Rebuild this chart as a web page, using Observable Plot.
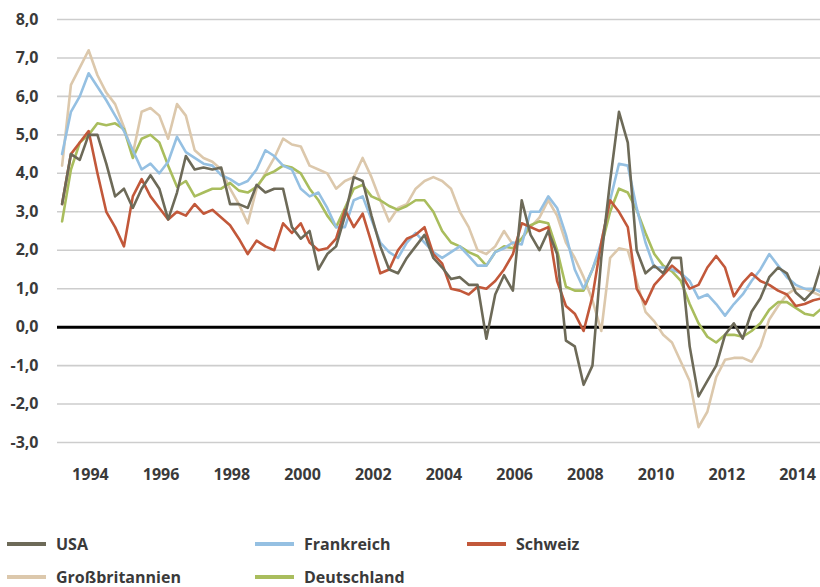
<!DOCTYPE html>
<html>
<head>
<meta charset="utf-8">
<script src="https://cdn.jsdelivr.net/npm/d3@7"></script>
<script src="https://cdn.jsdelivr.net/npm/@observablehq/plot@0.6"></script>
<style>
  html, body { margin: 0; padding: 0; background: #fff; }
  #wrap { position: relative; width: 820px; height: 587px; overflow: hidden; font-family: "Open Sans", sans-serif; }
  #wrap svg { display: block; }
  .lg { position: absolute; height: 22px; display: flex; align-items: center; font-size: 16px; font-weight: 700; color: #3a3a3a; white-space: nowrap; }
  .lg .sw { width: 39px; height: 4px; margin-right: 10px; }
</style>
</head>
<body>
<div id="wrap"></div>
<script>
// Series names and colours
const seriesNames = ["USA", "Frankreich", "Schweiz", "Großbritannien", "Deutschland"];
const seriesColors = ["#6d6a58", "#95c0e2", "#c2583a", "#dcc8ac", "#a9bd5d"];

// Time grid (quarterly samples, decimal years)
const times = d3.range(87).map(i => 1993.2 + i * 0.25);

// Values (%)
const usa = [3.2,4.5,4.35,5.0,5.0,4.25,3.4,3.6,3.1,3.6,3.95,3.6,2.8,3.5,4.45,4.1,4.15,4.1,4.15,3.2,
  3.2,3.1,3.7,3.5,3.6,3.6,2.6,2.3,2.5,1.5,1.9,2.1,2.9,3.9,3.8,2.9,2.1,1.5,1.4,1.8,
  2.1,2.4,1.8,1.55,1.25,1.3,1.1,1.1,-0.3,0.85,1.35,0.95,3.3,2.4,2.0,2.5,1.9,-0.35,-0.5,-1.5,
  -1.0,1.8,3.8,5.6,4.8,2.0,1.4,1.6,1.4,1.8,1.8,-0.5,-1.8,-1.4,-1.0,-0.2,0.1,-0.3,0.4,0.75,
  1.3,1.55,1.4,0.9,0.7,0.95,1.7];
const frankreich = [4.5,5.6,6.0,6.6,6.25,5.9,5.5,5.1,4.6,4.1,4.25,4.0,4.3,4.95,4.55,4.4,4.25,4.2,3.95,3.85,
  3.7,3.8,4.1,4.6,4.45,4.2,4.1,3.6,3.4,3.5,3.1,2.6,2.6,3.3,3.4,2.8,2.2,1.95,1.8,2.2,
  2.45,2.2,1.95,1.8,1.95,2.1,1.85,1.6,1.6,1.95,2.05,2.2,2.15,3.0,3.0,3.4,3.1,2.4,1.5,1.0,
  1.5,2.2,3.3,4.25,4.2,3.1,2.2,1.55,1.55,1.5,1.4,1.2,0.75,0.85,0.6,0.3,0.6,0.85,1.2,1.5,
  1.9,1.6,1.3,1.1,1.0,1.0,0.9];
const schweiz = [3.2,4.5,4.8,5.1,4.0,3.0,2.6,2.1,3.4,3.85,3.4,3.1,2.8,3.0,2.9,3.2,2.95,3.05,2.85,2.65,
  2.3,1.9,2.25,2.1,2.0,2.7,2.45,2.7,2.2,2.0,2.05,2.3,3.05,2.6,2.95,2.2,1.4,1.5,2.0,2.3,
  2.4,2.6,1.9,1.65,1.0,0.95,0.85,1.05,1.0,1.2,1.5,1.9,2.7,2.6,2.5,2.6,1.2,0.55,0.35,-0.1,
  0.8,2.2,3.3,3.0,2.6,1.0,0.6,1.1,1.35,1.6,1.4,1.0,1.1,1.55,1.85,1.55,0.8,1.15,1.4,1.2,
  1.1,0.95,0.85,0.55,0.6,0.7,0.75];
const grossbritannien = [4.2,6.3,6.75,7.2,6.55,6.1,5.8,5.2,4.5,5.6,5.7,5.5,4.9,5.8,5.5,4.6,4.4,4.3,4.1,3.6,
  3.2,2.7,3.6,4.0,4.4,4.9,4.75,4.7,4.2,4.1,4.0,3.6,3.8,3.9,4.4,3.9,3.3,2.75,3.1,3.2,
  3.6,3.8,3.9,3.8,3.6,3.0,2.6,2.0,1.9,2.1,2.5,2.15,2.3,2.6,2.85,3.3,2.9,2.2,1.8,1.3,
  0.7,-0.1,1.8,2.05,2.0,1.2,0.4,0.15,-0.2,-0.4,-0.9,-1.4,-2.6,-2.2,-1.3,-0.85,-0.8,-0.8,-0.9,-0.5,
  0.2,0.55,0.85,1.0,1.0,0.9,0.8];
const deutschland = [2.75,4.1,4.8,5.0,5.3,5.25,5.3,5.15,4.4,4.9,5.0,4.8,4.2,3.65,3.8,3.4,3.5,3.6,3.6,3.75,
  3.55,3.5,3.65,3.95,4.05,4.2,4.15,4.0,3.6,3.3,2.9,2.6,3.1,3.6,3.7,3.4,3.3,3.15,3.05,3.15,
  3.3,3.3,3.0,2.5,2.2,2.1,1.95,1.85,1.6,1.95,2.1,2.05,2.3,2.65,2.75,2.7,2.0,1.05,0.95,0.95,
  1.5,2.1,3.0,3.6,3.5,3.05,2.45,1.9,1.6,1.45,1.2,0.6,0.1,-0.25,-0.4,-0.2,-0.2,-0.25,-0.1,0.1,
  0.45,0.65,0.65,0.5,0.35,0.3,0.5];

// Axis ticks
const yTicks = [-3, -2, -1, 0, 1, 2, 3, 4, 5, 6, 7, 8];
const xTicks = [1994, 1996, 1998, 2000, 2002, 2004, 2006, 2008, 2010, 2012, 2014];

const valueLists = [usa, frankreich, schweiz, grossbritannien, deutschland];
const rows = (k) => times.map((t, i) => ({t, v: valueLists[k][i]}));
const drawOrder = [3, 4, 1, 2, 0];

const fmt = d => d.toFixed(1).replace(".", ",");

const chart = Plot.plot({
  width: 820,
  height: 500,
  marginLeft: 57,
  marginRight: 0,
  marginTop: 19,
  marginBottom: 58,
  style: {fontFamily: "Open Sans, sans-serif", fontSize: "16px", fontWeight: 700, color: "#3a3a3a", background: "#fff"},
  x: {domain: [1993.07, 2014.65]},
  y: {domain: [-3, 8]},
  marks: [
    Plot.gridY(yTicks, {stroke: "#cdcdcd", strokeWidth: 1.6, strokeOpacity: 1}),
    Plot.axisY(yTicks, {tickSize: 0, tickPadding: 19, tickFormat: fmt, label: null}),
    Plot.axisX(xTicks, {tickSize: 0, tickPadding: 26, tickFormat: d => String(d), label: null}),
    Plot.ruleY([0], {stroke: "#000", strokeWidth: 3}),
    ...drawOrder.map(k => Plot.line(rows(k), {x: "t", y: "v", stroke: seriesColors[k], strokeWidth: 2.6, clip: true}))
  ]
});

const wrap = document.getElementById("wrap");
wrap.appendChild(chart);

// Legend
const legendPos = [
  {k: 0, left: 7, top: 533},
  {k: 1, left: 255, top: 533},
  {k: 2, left: 467, top: 533},
  {k: 3, left: 7, top: 566},
  {k: 4, left: 255, top: 566}
];
for (const p of legendPos) {
  const d = document.createElement("div");
  d.className = "lg";
  d.style.left = p.left + "px";
  d.style.top = p.top + "px";
  const sw = document.createElement("span");
  sw.className = "sw";
  sw.style.background = seriesColors[p.k];
  const tx = document.createElement("span");
  tx.textContent = seriesNames[p.k];
  d.appendChild(sw);
  d.appendChild(tx);
  wrap.appendChild(d);
}
</script>
</body>
</html>
